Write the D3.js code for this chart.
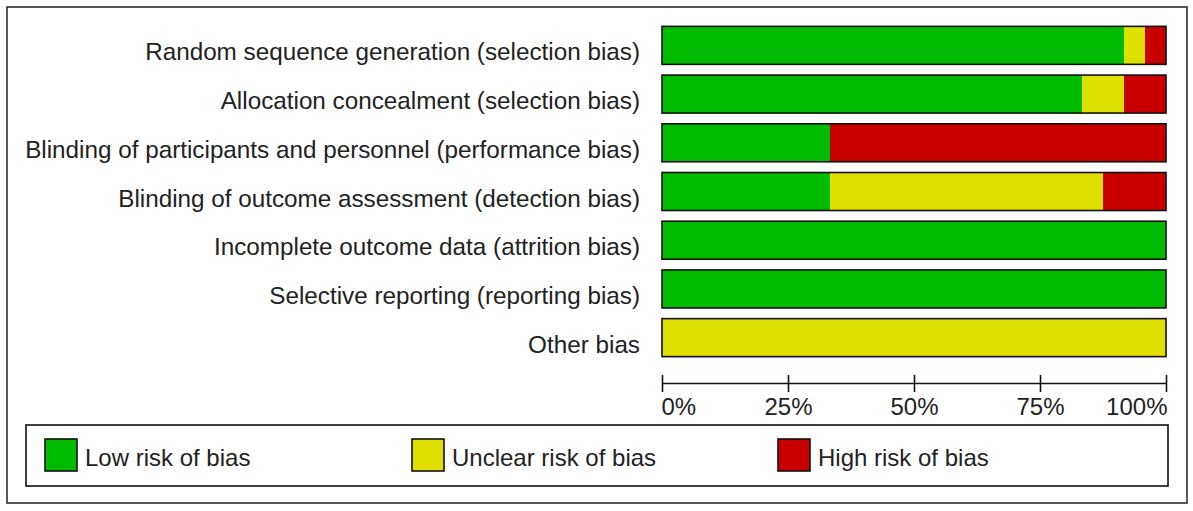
<!DOCTYPE html>
<html>
<head>
<meta charset="utf-8">
<script src="https://cdn.jsdelivr.net/npm/d3@7"></script>
<style>
  body { margin: 0; background: #fff; }
  text { font-family: "Liberation Sans", Arial, sans-serif; fill: #222; }
</style>
</head>
<body>
<script>
// Risk of bias domains (rows, top to bottom)
const domains = [
    "Random sequence generation (selection bias)",
    "Allocation concealment (selection bias)",
    "Blinding of participants and personnel (performance bias)",
    "Blinding of outcome assessment (detection bias)",
    "Incomplete outcome data (attrition bias)",
    "Selective reporting (reporting bias)",
    "Other bias"
];

// Number of studies per judgement (24 studies)
const lowRisk = [22, 20, 8, 8, 24, 24, 0];
const unclearRisk = [1, 2, 0, 13, 0, 0, 24];
const highRisk = [1, 2, 16, 3, 0, 0, 0];

const judgements = ["Low risk of bias", "Unclear risk of bias", "High risk of bias"];
const tickValues = [0, 25, 50, 75, 100];

const colors = ["#00bb00", "#e0e000", "#c80000"];

const W = 1193, H = 511;

const svg = d3.select("body").append("svg")
    .attr("width", W)
    .attr("height", H);

// Outer frame
svg.append("rect")
    .attr("x", 7).attr("y", 7)
    .attr("width", 1180).attr("height", 496)
    .attr("fill", "#fff")
    .attr("stroke", "#222")
    .attr("stroke-width", 1.5);

// Build rows as percentages
const rows = domains.map((d, i) => {
    const total = lowRisk[i] + unclearRisk[i] + highRisk[i];
    return {
        domain: d,
        low: lowRisk[i] / total * 100,
        unclear: unclearRisk[i] / total * 100,
        high: highRisk[i] / total * 100
    };
});

const keys = ["low", "unclear", "high"];
const stacked = d3.stack().keys(keys)(rows);

// Scales
const x = d3.scaleLinear().domain([0, 100]).range([662, 1166]);
const y = d3.scaleBand()
    .domain(domains)
    .range([21, 362])
    .paddingInner(0.22)
    .paddingOuter(0.11);

// Bars
const layers = svg.selectAll(".layer")
    .data(stacked)
    .enter().append("g")
    .attr("class", "layer")
    .attr("fill", (d, i) => colors[i]);

layers.selectAll("rect")
    .data(d => d)
    .enter().append("rect")
    .attr("x", d => x(d[0]))
    .attr("y", d => y(d.data.domain))
    .attr("width", d => x(d[1]) - x(d[0]))
    .attr("height", y.bandwidth());

// Bar outlines
svg.selectAll(".outline")
    .data(rows)
    .enter().append("rect")
    .attr("class", "outline")
    .attr("x", x(0))
    .attr("y", d => y(d.domain))
    .attr("width", x(100) - x(0))
    .attr("height", y.bandwidth())
    .attr("fill", "none")
    .attr("stroke", "#111")
    .attr("stroke-width", 1.6);

// Row labels (reference font is tall and narrow, so squeeze horizontally)
const labels = svg.selectAll(".label")
    .data(domains)
    .enter().append("text")
    .attr("class", "label")
    .attr("text-anchor", "end")
    .style("font-size", "24px")
    .text(d => d);

const longest = d3.max(labels.nodes(), n => n.getComputedTextLength());
const sx = 615 / longest;
labels.attr("transform", d => "translate(640," + (y(d) + y.bandwidth() / 2 + 15) + ") scale(" + sx + ",1)");

// X axis
const axis = svg.append("g")
    .attr("transform", "translate(0,383)")
    .call(d3.axisBottom(x)
        .tickValues(tickValues)
        .tickSizeInner(9)
        .tickSizeOuter(0)
        .tickPadding(14)
        .tickFormat(d => d + "%"));

axis.select(".domain").attr("stroke", "#111").attr("stroke-width", 1.6);
axis.selectAll(".tick line")
    .attr("y1", -8)
    .attr("stroke", "#111")
    .attr("stroke-width", 1.6);
axis.selectAll(".tick text")
    .style("font-size", "24px")
    .style("font-family", "'Liberation Sans', Arial, sans-serif")
    .attr("fill", "#222")
    .attr("y", 32)
    .attr("dy", 0)
    .attr("text-anchor", d => d === 0 ? "start" : d === 100 ? "end" : "middle")
    .attr("dx", d => d === 0 ? -1 : d === 100 ? 1 : 0);

// Legend
svg.append("rect")
    .attr("x", 26).attr("y", 425)
    .attr("width", 1142).attr("height", 61)
    .attr("fill", "#fff")
    .attr("stroke", "#111")
    .attr("stroke-width", 1.6);

const legendX = [45, 412, 778];
const legend = svg.selectAll(".legend")
    .data(judgements)
    .enter().append("g")
    .attr("class", "legend")
    .attr("transform", (d, i) => "translate(" + legendX[i] + ",439)");

legend.append("rect")
    .attr("width", 32).attr("height", 32)
    .attr("fill", (d, i) => colors[i])
    .attr("stroke", "#111")
    .attr("stroke-width", 1.6);

legend.append("text")
    .attr("x", 40)
    .attr("y", 27)
    .style("font-size", "24px")
    .text(d => d);
</script>
</body>
</html>
